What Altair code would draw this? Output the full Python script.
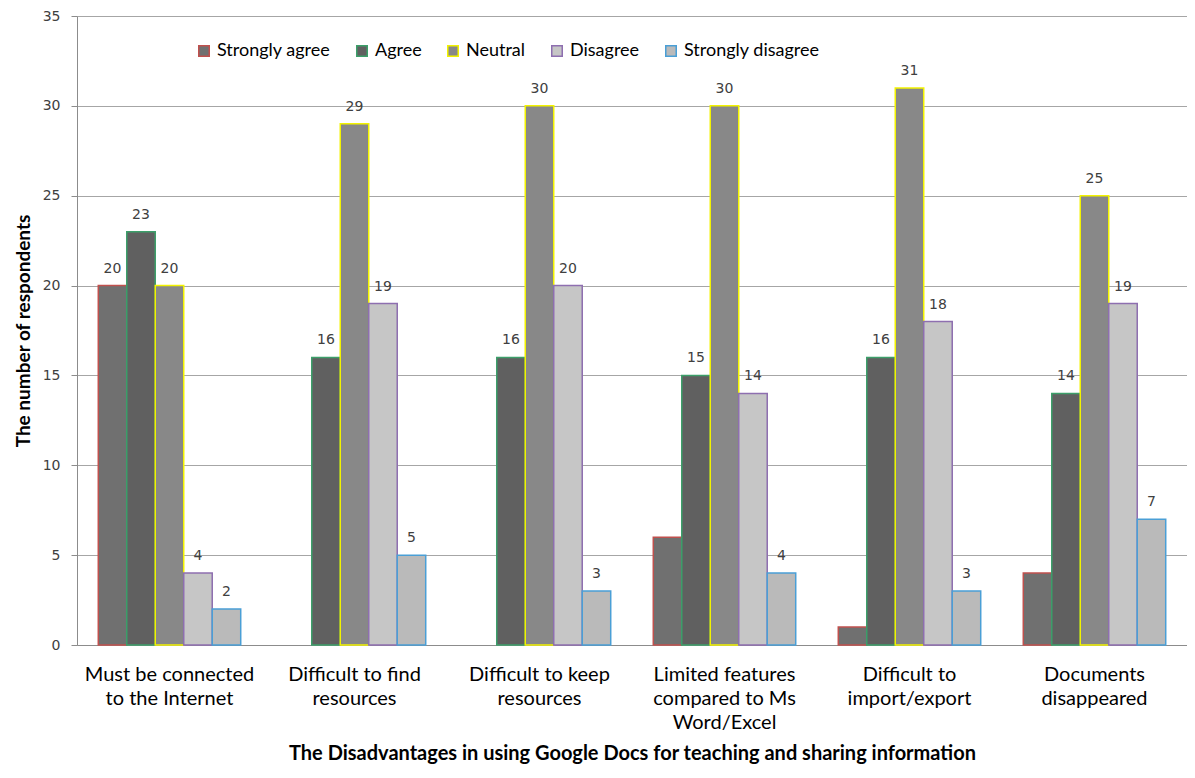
import altair as alt
import pandas as pd

categories = [
    "Must be connected|to the  Internet",
    "Difficult to find|resources",
    "Difficult to keep|resources",
    "Limited features|compared to Ms|Word/Excel",
    "Difficult to|import/export",
    "Documents|disappeared",
]
responses = ["Strongly agree", "Agree", "Neutral", "Disagree", "Strongly disagree"]

strongly_agree = [20, 0, 0, 6, 1, 4]
agree = [23, 16, 16, 15, 16, 14]
neutral = [20, 29, 30, 30, 31, 25]
disagree = [4, 19, 20, 14, 18, 19]
strongly_disagree = [2, 5, 3, 4, 3, 7]
# whether a value label is printed above the bar (as in the original)
strongly_agree_labelled = [True, False, False, False, False, False]

series = [strongly_agree, agree, neutral, disagree, strongly_disagree]
rows = []
for r, vals in zip(responses, series):
    for i, (c, v) in enumerate(zip(categories, vals)):
        show = v > 0 and (r != "Strongly agree" or strongly_agree_labelled[i])
        rows.append({"category": c, "response": r, "value": v, "show": show})
df = pd.DataFrame(rows)

fill_range = ["#707070", "#606060", "#888888", "#c6c6c6", "#bababa"]
stroke_range = ["#C0504D", "#3C9F6A", "#F2F200", "#8E6FB0", "#4A9FD6"]

legend_cfg = dict(
    title=None, orient="none", direction="horizontal",
    legendX=118, legendY=26, columns=5,
    symbolType="square", symbolSize=110, symbolStrokeWidth=1.5,
    labelFont="Lato", labelFontSize=18, labelColor="#000000",
    labelOffset=4, columnPadding=22,
)

base = alt.Chart(df).encode(
    x=alt.X(
        "category:N",
        sort=categories,
        scale=alt.Scale(paddingInner=0.23, paddingOuter=0.115),
        axis=alt.Axis(
            title="The Disadvantages in using Google Docs for teaching and sharing information",
            labelExpr="split(datum.label, '|')",
            labelAngle=0,
            labelFont="Lato",
            labelFontSize=20,
            labelColor="#000000",
            labelLineHeight=24,
            labelPadding=19,
            labelLimit=400,
            ticks=False,
            domainColor="#8c8c8c",
            grid=False,
            titleFont="Lato",
            titleFontWeight="bold",
            titleFontSize=20,
            titleColor="#000000",
            titlePadding=11,
        ),
    ),
    xOffset=alt.XOffset("response:N", sort=responses,
                        scale=alt.Scale(domain=responses, paddingInner=0, paddingOuter=0)),
    y=alt.Y(
        "value:Q",
        scale=alt.Scale(domain=[0, 35], nice=False),
        axis=alt.Axis(
            title="The number of respondents",
            values=[0, 5, 10, 15, 20, 25, 30, 35],
            labelFont="DejaVu Sans",
            labelFontSize=14,
            labelColor="#404040",
            labelPadding=11,
            tickSize=6,
            tickColor="#8c8c8c",
            domainColor="#8c8c8c",
            gridColor="#a6a6a6",
            titleFont="Lato",
            titleFontWeight="bold",
            titleFontSize=19,
            titleColor="#000000",
            titlePadding=9,
        ),
    ),
)

bars = base.transform_filter("datum.value > 0").mark_bar(strokeWidth=1.5).encode(
    fill=alt.Fill("response:N", sort=responses,
                  scale=alt.Scale(domain=responses, range=fill_range),
                  legend=alt.Legend(**legend_cfg)),
    stroke=alt.Stroke("response:N", sort=responses,
                      scale=alt.Scale(domain=responses, range=stroke_range),
                      legend=alt.Legend(**legend_cfg)),
)

labels = base.transform_filter("datum.show").mark_text(
    dy=-13, baseline="alphabetic", font="DejaVu Sans", fontSize=14, color="#404040"
).encode(text="value:Q")

chart = (
    (bars + labels)
    .properties(
        width=1110,
        height=629,
        autosize=alt.AutoSizeParams(type="none"),
        padding={"left": 69, "top": 8, "right": 0, "bottom": 125},
    )
    .configure_view(stroke=None)
    .configure(background="#ffffff")
)

chart.save("out.html", embed_options={"renderer": "svg", "actions": False})
